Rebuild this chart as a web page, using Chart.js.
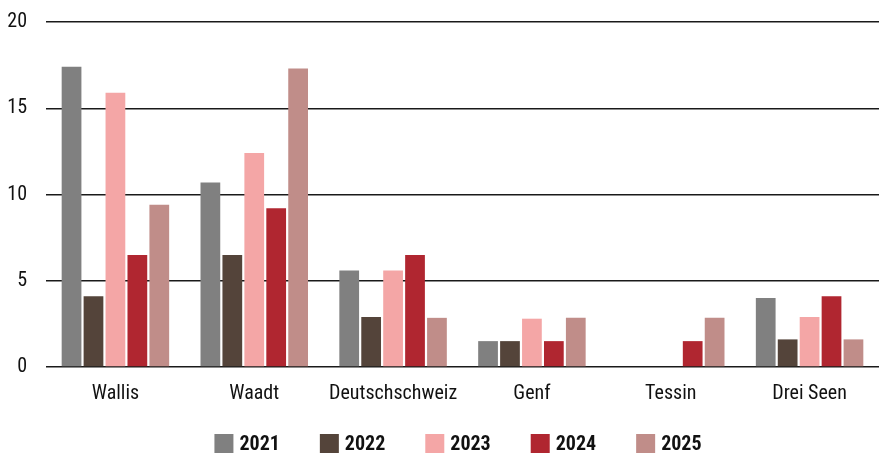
<!DOCTYPE html>
<html>
<head>
<meta charset="utf-8">
<script src="https://cdn.jsdelivr.net/npm/chart.js@4/dist/chart.umd.min.js"></script>
<style>
  html, body { margin: 0; padding: 0; background: #fff; }
  #wrap { width: 879px; height: 457px; position: relative; }
</style>
</head>
<body>
<div id="wrap"><canvas id="regions-chart"></canvas></div>
<script>
const regions = ["Wallis", "Waadt", "Deutschschweiz", "Genf", "Tessin", "Drei Seen"];
const years = ["2021", "2022", "2023", "2024", "2025"];

const values2021 = [17.4, 10.7, 5.6, 1.5, 0, 4.0];
const values2022 = [4.1, 6.5, 2.9, 1.5, 0, 1.6];
const values2023 = [15.9, 12.4, 5.6, 2.8, 0, 2.9];
const values2024 = [6.5, 9.2, 6.5, 1.5, 1.5, 4.1];
const values2025 = [9.4, 17.3, 2.85, 2.85, 2.85, 1.6];

const yearColors = ["#808080", "#54443a", "#f4a6a6", "#b02630", "#c08d89"];
const fontFamily = "'Roboto Condensed', 'DejaVu Sans Condensed', 'Liberation Sans', sans-serif";

const seriesValues = [values2021, values2022, values2023, values2024, values2025];

// legend drawn by hand so the spacing matches the original
const bottomLegend = {
    id: "bottomLegend",
    afterDraw(chart) {
        const ctx = chart.ctx;
        const box = 19;
        const textGap = 6;
        const itemGap = 40;
        ctx.save();
        ctx.font = "bold 20px " + fontFamily;
        ctx.textBaseline = "middle";
        const items = chart.data.datasets.map((ds) => ({
            label: ds.label,
            color: ds.backgroundColor,
            w: box + textGap + ctx.measureText(ds.label).width,
        }));
        const total = items.reduce((s, it) => s + it.w, 0) + itemGap * (items.length - 1);
        let x = 458 - total / 2;
        const y = 434;
        items.forEach((it) => {
            ctx.fillStyle = it.color;
            ctx.fillRect(x, y, box, box);
            ctx.fillStyle = "#111";
            ctx.fillText(it.label, x + box + textGap, y + box / 2 + 1);
            x += it.w + itemGap;
        });
        ctx.restore();
    },
};

new Chart(document.getElementById("regions-chart"), {
    type: "bar",
    data: {
        labels: regions,
        datasets: years.map((year, i) => ({
            label: year,
            data: seriesValues[i],
            backgroundColor: yearColors[i],
            borderWidth: 0,
            categoryPercentage: 0.79,
            barPercentage: 0.9,
        })),
    },
    options: {
        responsive: true,
        maintainAspectRatio: false,
        animation: false,
        layout: {
            padding: { top: 22, left: 0, right: 0, bottom: 36 },
        },
        scales: {
            x: {
                grid: { display: false, drawTicks: false },
                border: { display: false },
                ticks: {
                    color: "#111",
                    padding: 15,
                    maxRotation: 0,
                    autoSkip: false,
                    font: { family: fontFamily, size: 20 },
                },
            },
            y: {
                min: 0,
                max: 20,
                afterFit(scale) {
                    scale.width = 46;
                    scale.paddingTop = 0;
                    scale.paddingBottom = 0;
                },
                grid: { color: "#1a1a1a", lineWidth: 1.5, drawTicks: false },
                border: { display: false },
                ticks: {
                    stepSize: 5,
                    color: "#111",
                    padding: 19,
                    font: { family: fontFamily, size: 20 },
                },
            },
        },
        plugins: {
            legend: { display: false },
            tooltip: { enabled: false },
        },
    },
    plugins: [bottomLegend],
});
</script>
</body>
</html>
